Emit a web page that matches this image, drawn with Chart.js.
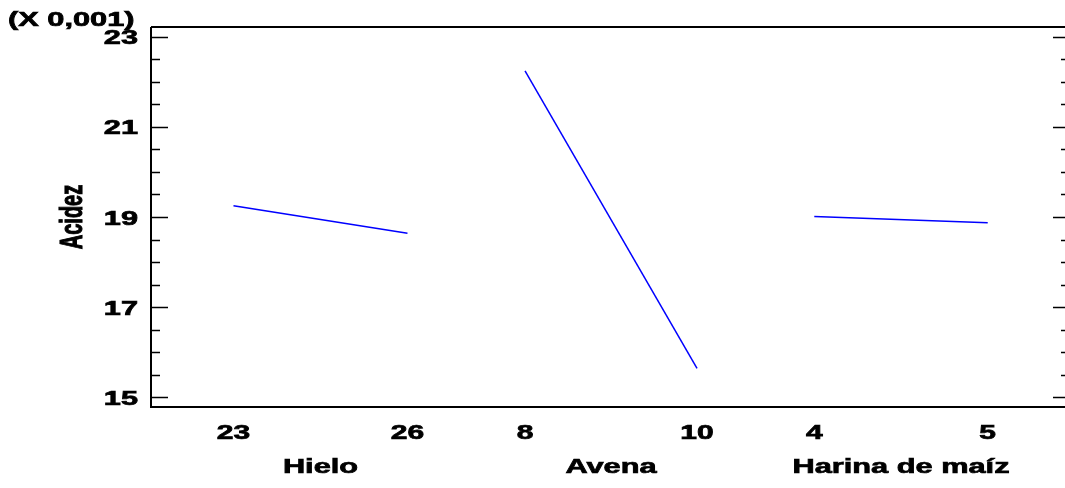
<!DOCTYPE html>
<html>
<head>
<meta charset="utf-8">
<script src="https://cdn.jsdelivr.net/npm/chart.js@4/dist/chart.umd.min.js"></script>
<style>
  html, body { margin: 0; padding: 0; background: #fff; overflow: hidden; }
  #cadre { width: 1065px; height: 488px; overflow: hidden; }
</style>
</head>
<body>
<div id="cadre"><canvas id="graphique" width="1075" height="488"></canvas></div>
<script>
// niveaux et moyennes
const factores = ['Hielo', 'Avena', 'Harina de maíz'];
const nivelesHielo = [23, 26];
const acidezHielo = [19.25, 18.64];
const nivelesAvena = [8, 10];
const acidezAvena = [22.24, 15.64];
const nivelesHarina = [4, 5];
const acidezHarina = [19.01, 18.87];
const ticksY = [15, 17, 19, 21, 23];
const escalaTexto = '(X 0,001)';

const niveles = [nivelesHielo, nivelesAvena, nivelesHarina];
const ejes = ['x1', 'x2', 'x3'];

function points(xs, ys) {
  const res = [];
  for (let i = 0; i < xs.length; i += 1) {
    res.push({ x: xs[i], y: ys[i] });
  }
  return res;
}

const FUENTE = '"Liberation Sans", Arial, sans-serif';
const ETIRE = 1.5;

// le texte de l'original est étiré horizontalement et assez gras
function texto(ctx, str, x, y, align, size) {
  ctx.save();
  ctx.translate(x, y);
  ctx.scale(ETIRE, 1);
  ctx.font = `bold ${size}px ${FUENTE}`;
  ctx.fillStyle = '#000';
  ctx.strokeStyle = '#000';
  ctx.lineWidth = 0.7;
  ctx.textAlign = align;
  ctx.textBaseline = 'alphabetic';
  ctx.fillText(str, 0, 0);
  ctx.strokeText(str, 0, 0);
  ctx.restore();
}

const cadrePlugin = {
  id: 'cadre',
  afterDraw(chart) {
    const ctx = chart.ctx;
    const area = chart.chartArea;
    const y = chart.scales.y;

    ctx.save();
    ctx.strokeStyle = '#000';
    ctx.lineWidth = 2;
    ctx.beginPath();
    ctx.moveTo(area.left, area.top);
    ctx.lineTo(area.right, area.top);
    ctx.moveTo(area.left, area.top);
    ctx.lineTo(area.left, area.bottom);
    ctx.lineTo(area.right, area.bottom);
    ctx.stroke();

    // graduations vers l'intérieur, à gauche et à droite
    ctx.lineWidth = 1.5;
    for (let v = ticksY[0]; v <= ticksY[ticksY.length - 1] + 0.001; v += 0.5) {
      const py = Math.round(y.getPixelForValue(v)) + 0.5;
      const major = ticksY.includes(Math.round(v * 10) / 10);
      const len = major ? 17 : 9;
      ctx.beginPath();
      ctx.moveTo(area.left, py);
      ctx.lineTo(area.left + len, py);
      ctx.moveTo(area.right, py);
      ctx.lineTo(area.right - len, py);
      ctx.stroke();
    }
    ctx.restore();

    for (const t of ticksY) {
      texto(ctx, String(t), 138, y.getPixelForValue(t) + 7.5, 'right', 20.5);
    }

    for (let k = 0; k < factores.length; k += 1) {
      const sc = chart.scales[ejes[k]];
      const lv = niveles[k];
      for (const v of lv) {
        texto(ctx, String(v), sc.getPixelForValue(v), 439, 'center', 20);
      }
      const mid = (sc.getPixelForValue(lv[0]) + sc.getPixelForValue(lv[lv.length - 1])) / 2;
      texto(ctx, factores[k], mid, 473, 'center', 20.5);
    }

    texto(ctx, escalaTexto, 8, 26, 'left', 20.5);

    // titre vertical
    ctx.save();
    ctx.translate(82, (area.top + area.bottom) / 2);
    ctx.scale(1.6, 1);
    ctx.rotate(-Math.PI / 2);
    ctx.font = `bold 20px ${FUENTE}`;
    ctx.fillStyle = '#000';
    ctx.strokeStyle = '#000';
    ctx.lineWidth = 0.7;
    ctx.textAlign = 'center';
    ctx.textBaseline = 'alphabetic';
    ctx.fillText('Acidez', 0, 0);
    ctx.strokeText('Acidez', 0, 0);
    ctx.restore();
  }
};

const ligne = {
  borderColor: '#0000ff',
  borderWidth: 1.5,
  pointRadius: 0,
  fill: false,
  tension: 0
};

const data = {
  datasets: [
    { ...ligne, label: factores[0], xAxisID: 'x1', data: points(nivelesHielo, acidezHielo) },
    { ...ligne, label: factores[1], xAxisID: 'x2', data: points(nivelesAvena, acidezAvena) },
    { ...ligne, label: factores[2], xAxisID: 'x3', data: points(nivelesHarina, acidezHarina) }
  ]
};

const config = {
  type: 'line',
  data: data,
  options: {
    responsive: false,
    animation: false,
    devicePixelRatio: 1,
    layout: { padding: { left: 151, right: 5, top: 27, bottom: 81 } },
    plugins: { legend: { display: false }, tooltip: { enabled: false } },
    scales: {
      x1: { type: 'linear', display: false, min: 21.578, max: 37.423 },
      x2: { type: 'linear', display: false, min: 3.651, max: 14.337 },
      x3: { type: 'linear', display: false, min: 0.1747, max: 5.4746 },
      y: { type: 'linear', display: false, min: 14.785, max: 23.215 }
    }
  },
  plugins: [cadrePlugin]
};

const graphique = new Chart(document.querySelector('#graphique'), config);
</script>
</body>
</html>
